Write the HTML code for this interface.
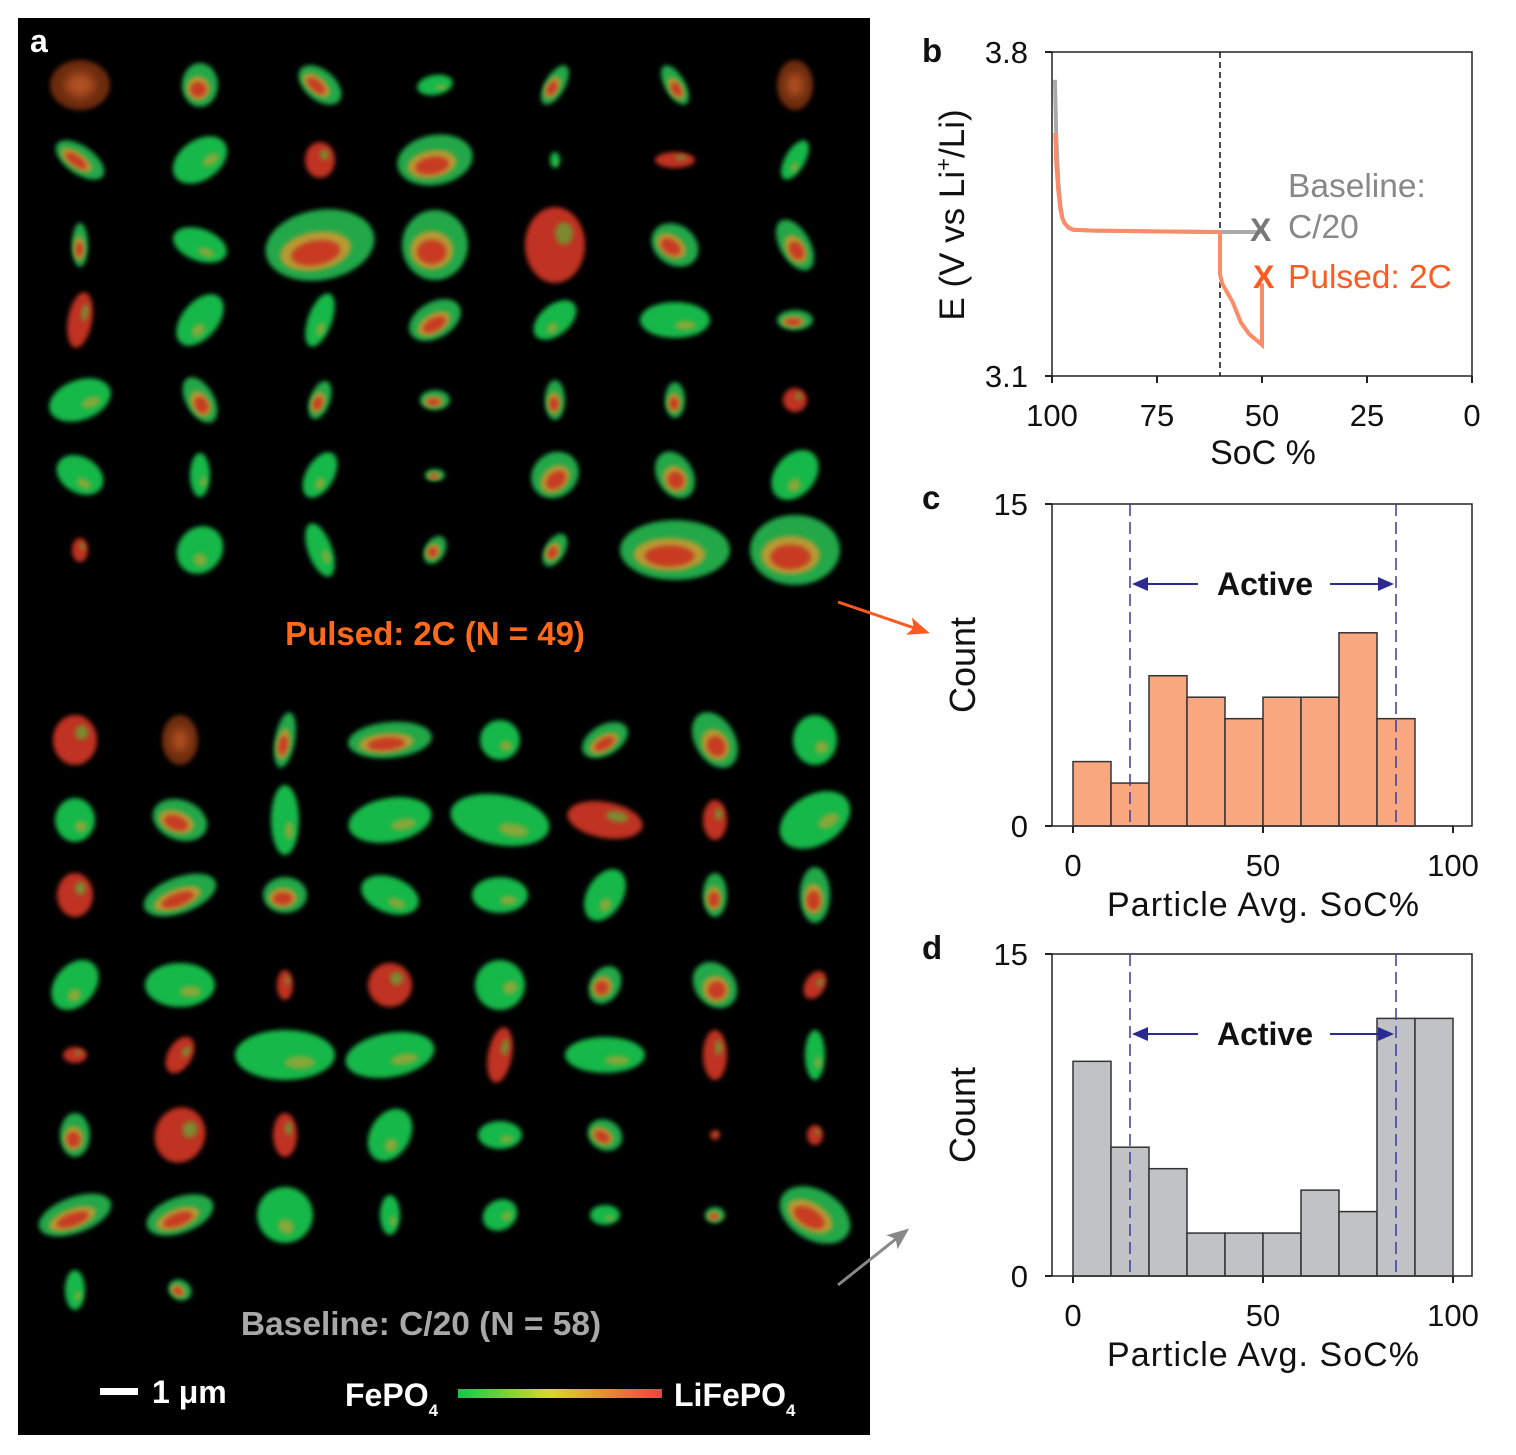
<!DOCTYPE html>
<html><head><meta charset="utf-8"><style>
body{margin:0;background:#fff;width:1516px;height:1450px;overflow:hidden;font-family:"Liberation Sans",sans-serif}
svg text{font-family:"Liberation Sans",sans-serif}
</style></head><body>
<svg id="fig" width="1516" height="1450" viewBox="0 0 1516 1450" xmlns="http://www.w3.org/2000/svg">
<defs>
<filter id="bl" x="-50%" y="-50%" width="200%" height="200%"><feGaussianBlur stdDeviation="2.5"/></filter>
<filter id="bl2" x="-50%" y="-50%" width="200%" height="200%"><feGaussianBlur stdDeviation="5"/></filter>
<linearGradient id="cbar" x1="0" x2="1" y1="0" y2="0"><stop offset="0" stop-color="#12c84a"/><stop offset="0.45" stop-color="#d8d830"/><stop offset="1" stop-color="#f04040"/></linearGradient>
<marker id="arO" markerWidth="22" markerHeight="22" refX="18" refY="11" orient="auto" markerUnits="userSpaceOnUse"><path d="M0,2 L22,11 L0,20 L5,11 z" fill="#ff5a1f"/></marker>
<marker id="arG" markerWidth="22" markerHeight="22" refX="18" refY="11" orient="auto" markerUnits="userSpaceOnUse"><path d="M0,2 L22,11 L0,20 L5,11 z" fill="#888"/></marker>
</defs>
<rect x="18" y="18" width="852" height="1417" fill="#000"/>
<g id="particles"></g>
<text x="30" y="52" fill="#fff" font-size="32" font-weight="bold">a</text>
<text x="435" y="645" fill="#ff6a1a" font-size="33" font-weight="bold" text-anchor="middle">Pulsed: 2C (N = 49)</text>
<text x="421" y="1335" fill="#a8a8a8" font-size="33.5" font-weight="bold" text-anchor="middle">Baseline: C/20 (N = 58)</text>
<rect x="100" y="1388" width="38" height="7" fill="#fff"/>
<text x="152" y="1403" fill="#fff" font-size="32" font-weight="bold">1 μm</text>
<text x="345" y="1406" fill="#fff" font-size="32" font-weight="bold">FePO<tspan font-size="17" dy="10">4</tspan></text>
<rect x="458" y="1389" width="204" height="9" fill="url(#cbar)"/>
<text x="674" y="1406" fill="#fff" font-size="32" font-weight="bold">LiFePO<tspan font-size="17" dy="10">4</tspan></text>
<line x1="838" y1="602" x2="926" y2="632" stroke="#ff5a1f" stroke-width="3" marker-end="url(#arO)"/>
<line x1="838" y1="1285" x2="906" y2="1231" stroke="#888" stroke-width="3" marker-end="url(#arG)"/>
<g id="pb"></g>
<g id="pc"></g>
<g id="pd"></g>
</svg>
<script>
const NS="http://www.w3.org/2000/svg";
function mk(p,tag,at,txt){const e=document.createElementNS(NS,tag);for(const k in at)e.setAttribute(k,at[k]);if(txt!==undefined)e.textContent=txt;p.appendChild(e);return e;}

// particle layout (image content, not chart data)
const topXs=[80,200,320,435,555,675,795], topYs=[85,160,245,320,400,475,550];
const topP=[
[30,25,0,'d'],[18,22,0,'m'],[25,15,40,'m'],[18,10,-10,'g'],[10,22,30,'m'],[10,22,-30,'m'],[18,25,0,'d'],
[28,14,35,'m'],[30,20,-35,'g'],[15,18,0,'r'],[38,25,-10,'m'],[5,8,0,'g'],[20,8,0,'r'],[10,22,30,'g'],
[8,22,0,'m'],[28,16,20,'g'],[55,35,-10,'m'],[33,35,0,'m'],[30,38,0,'r'],[25,20,35,'m'],[15,28,-30,'m'],
[12,28,10,'r'],[18,30,40,'g'],[12,28,20,'g'],[28,18,-30,'m'],[15,25,50,'g'],[35,18,0,'g'],[18,10,0,'m'],
[32,20,-20,'g'],[14,25,-30,'m'],[10,20,20,'m'],[15,10,0,'m'],[10,20,0,'m'],[10,18,0,'m'],[12,12,0,'r'],
[25,18,30,'g'],[10,22,0,'g'],[14,25,30,'g'],[10,6,0,'m'],[25,22,-40,'m'],[18,25,-30,'m'],[20,28,40,'g'],
[8,12,0,'r'],[22,25,40,'g'],[12,28,-20,'g'],[10,15,30,'m'],[10,18,30,'m'],[55,30,0,'m'],[45,35,0,'m']];
const botXs=[75,180,285,390,500,605,715,815], botYs=[740,820,895,985,1055,1135,1215,1290];
const botP=[
[22,25,0,'r'],[18,25,0,'d'],[10,28,10,'m'],[42,18,-5,'m'],[20,20,0,'g'],[25,15,-30,'m'],[20,30,-30,'m'],[22,25,0,'g'],
[20,22,0,'g'],[28,20,20,'m'],[14,35,0,'g'],[42,22,-10,'g'],[50,25,10,'g'],[38,18,10,'r'],[12,20,0,'r'],[38,25,-30,'g'],
[18,22,0,'r'],[38,18,-20,'m'],[22,18,0,'m'],[30,18,20,'g'],[28,18,0,'g'],[18,28,30,'g'],[12,22,0,'m'],[15,28,0,'m'],
[20,28,40,'g'],[35,22,0,'g'],[8,15,0,'r'],[22,22,0,'r'],[25,25,-30,'g'],[15,20,30,'m'],[20,25,-40,'m'],[10,15,30,'r'],
[12,8,0,'r'],[12,20,30,'r'],[50,25,0,'g'],[45,22,-10,'g'],[12,28,10,'r'],[40,18,0,'g'],[12,25,0,'r'],[10,25,0,'g'],
[15,22,0,'m'],[25,28,20,'r'],[12,22,0,'r'],[20,28,30,'g'],[22,14,0,'g'],[18,15,30,'m'],[5,5,0,'r'],[8,10,0,'r'],
[38,18,-20,'m'],[35,18,-20,'m'],[28,28,40,'g'],[10,20,0,'g'],[18,15,-30,'g'],[15,10,0,'g'],[10,8,0,'m'],[38,25,30,'m'],
[10,20,0,'g'],[12,10,30,'m'],null,null,null,null,null,null];
const pg=document.getElementById('particles');
function blob(cx,cy,p){if(!p)return;const [rx,ry,rot,t]=p;
 const g=mk(pg,'g',{transform:`translate(${cx},${cy}) rotate(${rot})`});
 
 
 const base={g:'#18b848',m:'#22a848',r:'#c03020',d:'#6a2a10'}[t];
 mk(g,'ellipse',{cx:0,cy:0,rx:rx,ry:ry,fill:base,filter:'url(#bl)'});
 if(t==='g')mk(g,'ellipse',{cx:rx*0.3,cy:ry*0.3,rx:rx*0.3,ry:ry*0.25,fill:'#b9a030',opacity:0.7,filter:'url(#bl)'});
 if(t==='m'){mk(g,'ellipse',{cx:-rx*0.1,cy:ry*0.15,rx:rx*0.65,ry:ry*0.55,fill:'#b89a30',filter:'url(#bl)'});
  mk(g,'ellipse',{cx:-rx*0.1,cy:ry*0.2,rx:rx*0.45,ry:ry*0.35,fill:'#c83a20',filter:'url(#bl)'});}
 if(t==='r')mk(g,'ellipse',{cx:rx*0.3,cy:-ry*0.3,rx:rx*0.3,ry:ry*0.3,fill:'#6aa030',opacity:0.8,filter:'url(#bl)'});
 if(t==='d')mk(g,'ellipse',{cx:0,cy:0,rx:rx*0.5,ry:ry*0.5,fill:'#b05020',filter:'url(#bl2)'});
}
topYs.forEach((y,i)=>topXs.forEach((x,j)=>blob(x,y,topP[i*7+j])));
botYs.forEach((y,i)=>botXs.forEach((x,j)=>blob(x,y,botP[i*8+j])));

// ---------- Panel b data ----------
const bBaseSoc=[99.3,99,98.5,98,97.5,97,96,95,90,80,70,60,50];
const bBaseV=[3.74,3.62,3.52,3.47,3.44,3.43,3.42,3.416,3.414,3.413,3.412,3.411,3.411];
const bPulseSoc=[99.2,99,98.5,98,97.5,97,96,95,90,80,70,60,60,59.5,57,55,53,51,50,50];
const bPulseV=[3.625,3.56,3.5,3.46,3.44,3.43,3.42,3.416,3.414,3.413,3.412,3.411,3.32,3.30,3.26,3.215,3.19,3.175,3.167,3.30];
const bXTicks=[100,75,50,25,0];
const bYTicks=[3.1,3.8];
const bx=s=>1052+(100-s)*4.2, by=v=>376-(v-3.1)/0.7*324;
const pb=document.getElementById('pb');
let e;
e=mk(pb,'rect',{x:1052,y:52,width:420,height:324,fill:'none',stroke:'#222','stroke-width':1.5});


bXTicks.forEach(t=>{mk(pb,'line',{x1:bx(t),x2:bx(t),y1:376,y2:383,stroke:'#222','stroke-width':2});
 e=mk(pb,'text',{x:bx(t),y:426,'font-size':31,'text-anchor':'middle',fill:'#111'},t);
 
 });
bYTicks.forEach(t=>{mk(pb,'line',{x1:1045,x2:1052,y1:by(t),y2:by(t),stroke:'#222','stroke-width':2});
 e=mk(pb,'text',{x:1028,y:by(t)+11,'font-size':31,'text-anchor':'end',fill:'#111'},t.toFixed(1));
 
 });
e=mk(pb,'line',{x1:bx(60),x2:bx(60),y1:52,y2:376,stroke:'#111','stroke-width':1.5,'stroke-dasharray':'6,4'});


e=mk(pb,'polyline',{points:bBaseSoc.map((s,i)=>bx(s)+','+by(bBaseV[i])).join(' '),fill:'none',stroke:'#aaa','stroke-width':4});


e=mk(pb,'polyline',{points:bPulseSoc.map((s,i)=>bx(s)+','+by(bPulseV[i])).join(' '),fill:'none',stroke:'#fb8c68','stroke-width':4});


e=mk(pb,'text',{x:1250,y:241,'font-size':32,'font-weight':'bold',fill:'#777'},'X');


e=mk(pb,'text',{x:1253,y:288,'font-size':32,'font-weight':'bold',fill:'#ff5a1f'},'X');


e=mk(pb,'text',{x:1288,y:197,'font-size':33.5,fill:'#888'},'Baseline:');


e=mk(pb,'text',{x:1288,y:238,'font-size':33.5,fill:'#888'},'C/20');


e=mk(pb,'text',{x:1288,y:288,'font-size':33.5,fill:'#ff5a1f'},'Pulsed: 2C');


e=mk(pb,'text',{x:1263,y:464,'font-size':34,'text-anchor':'middle',fill:'#111'},'SoC %');


e=mk(pb,'text',{x:0,y:0,'font-size':35,'text-anchor':'middle',fill:'#111',transform:'translate(964,215) rotate(-90)'});
e.innerHTML='E (V vs Li<tspan font-size="22" dy="-13">+</tspan><tspan dy="13">/Li)</tspan>';


e=mk(pb,'text',{x:922,y:62,'font-size':33,'font-weight':'bold',fill:'#111'},'b');



// ---------- Histograms ----------
const binStarts=[0,10,20,30,40,50,60,70,80,90];
const cCounts=[3,2,7,6,5,6,6,9,5,0];
const dCounts=[10,6,5,2,2,2,4,3,12,12];
const hXTicks=[0,50,100];
const hYTicks=[0,15];
function hist(gid,top,counts,fill,letter){
 const g=document.getElementById(gid), bot=top+322;
 const hx=v=>1073+v*3.8, hy=c=>bot-c/15*322;
 e=mk(g,'rect',{x:1052,y:top,width:420,height:322,fill:'none',stroke:'#222','stroke-width':1.5});
 
 
 binStarts.forEach((b,i)=>{if(!counts[i])return;
  e=mk(g,'rect',{x:hx(b),y:hy(counts[i]),width:hx(b+10)-hx(b),height:bot-hy(counts[i]),fill:fill,stroke:'#333','stroke-width':1.5});
  
  });
 mk(g,'line',{x1:hx(0),x2:hx(100),y1:bot,y2:bot,stroke:'#333','stroke-width':1.5});
 hXTicks.forEach(t=>{mk(g,'line',{x1:hx(t),x2:hx(t),y1:bot,y2:bot+7,stroke:'#222','stroke-width':2});
  e=mk(g,'text',{x:hx(t),y:bot+50,'font-size':31,'text-anchor':'middle',fill:'#111'},t);
  
  });
 hYTicks.forEach(t=>{mk(g,'line',{x1:1045,x2:1052,y1:hy(t),y2:hy(t),stroke:'#222','stroke-width':2});
  e=mk(g,'text',{x:1028,y:hy(t)+11,'font-size':31,'text-anchor':'end',fill:'#111'},t);
  
  });
 [15,85].forEach(v=>{e=mk(g,'line',{x1:hx(v),x2:hx(v),y1:top,y2:bot,stroke:'#3a3aa0','stroke-width':1.5,'stroke-dasharray':'12,6'});
  
  });
 const ay=top+80;
 mk(g,'line',{x1:hx(15)+4,x2:1198,y1:ay,y2:ay,stroke:'#2a2a90','stroke-width':2});
 mk(g,'path',{d:`M${hx(15)+2},${ay} l16,-7 v14 z`,fill:'#2a2a90'});
 mk(g,'line',{x1:1330,x2:hx(85)-4,y1:ay,y2:ay,stroke:'#2a2a90','stroke-width':2});
 mk(g,'path',{d:`M${hx(85)-2},${ay} l-16,-7 v14 z`,fill:'#2a2a90'});
 e=mk(g,'text',{x:1265,y:ay+11,'font-size':32,'font-weight':'bold','text-anchor':'middle',fill:'#111'},'Active');
 
 
 e=mk(g,'text',{x:1263,y:bot+90,'font-size':34,'text-anchor':'middle',fill:'#111','textLength':312},'Particle Avg. SoC%');
 
 
 e=mk(g,'text',{x:0,y:0,'font-size':36,'text-anchor':'middle',fill:'#111',transform:`translate(975,${top+161}) rotate(-90)`},'Count');
 
 
 e=mk(g,'text',{x:922,y:top+5,'font-size':33,'font-weight':'bold',fill:'#111'},letter);
 
 
}
hist('pc',504,cCounts,'#f9a77f','c');
hist('pd',954,dCounts,'#c0c2c6','d');
</script>
</body></html>
